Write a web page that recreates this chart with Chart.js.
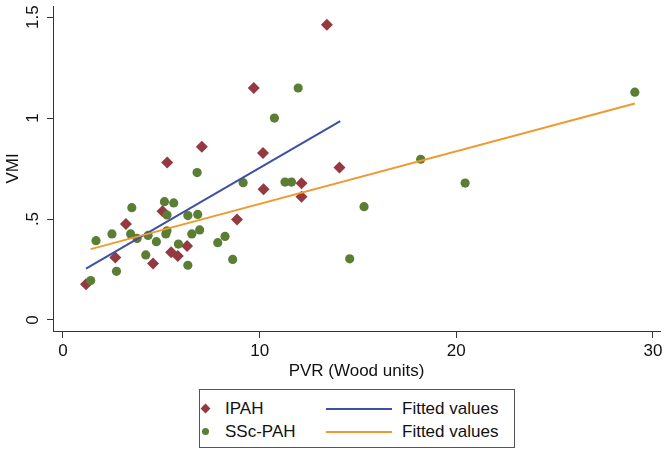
<!DOCTYPE html>
<html>
<head>
<meta charset="utf-8">
<script src="https://cdn.jsdelivr.net/npm/chart.js@4.4.1/dist/chart.umd.min.js"></script>
<style>
  html, body { margin: 0; padding: 0; background: #fff; }
  #wrap { position: relative; width: 666px; height: 450px; font-family: "Liberation Sans", Arial, Helvetica, sans-serif; }
  #legend { position: absolute; left: 199px; top: 389px; width: 316px; height: 59px; box-sizing: border-box; border: 1px solid #555; background: #fff; }
  .lg { position: absolute; font-size: 17px; line-height: 20px; height: 20px; color: #111; white-space: nowrap; }
  .dia { position: absolute; width: 7px; height: 7px; transform: rotate(45deg); }
  .dot { position: absolute; width: 7px; height: 7px; border-radius: 50%; }
  .ln { position: absolute; height: 2px; width: 66px; }
</style>
</head>
<body>
<div id="wrap">
  <canvas id="c" width="666" height="450"></canvas>
  <div id="legend"></div>
</div>
<script>
// ---- data ----
const ipahX = [1.17, 2.66, 3.20, 4.58, 5.06, 5.30, 5.50, 5.84, 6.31, 7.06, 8.85, 9.70, 10.17, 10.20, 12.13, 12.13, 13.42, 14.06];
const ipahY = [0.177, 0.309, 0.475, 0.280, 0.538, 0.780, 0.335, 0.317, 0.366, 0.858, 0.498, 1.149, 0.827, 0.647, 0.677, 0.610, 1.462, 0.755];

const sscX = [1.41, 1.68, 2.49, 2.72, 3.50, 3.44, 3.77, 4.21, 4.33, 4.75, 5.16, 5.29, 5.23, 5.29, 5.63, 5.87, 6.35, 6.35, 6.55, 6.82, 6.85, 6.95, 7.87, 8.24, 8.63, 9.16, 10.75, 11.29, 11.62, 11.96, 14.58, 15.31, 18.19, 20.45, 29.08];
const sscY = [0.195, 0.393, 0.426, 0.241, 0.556, 0.426, 0.404, 0.322, 0.419, 0.388, 0.586, 0.520, 0.426, 0.442, 0.580, 0.376, 0.517, 0.271, 0.426, 0.730, 0.523, 0.446, 0.383, 0.414, 0.300, 0.680, 1.000, 0.683, 0.683, 1.149, 0.303, 0.561, 0.796, 0.678, 1.128];

const fitIpahX = [1.17, 14.10];
const fitIpahY = [0.254, 0.985];
const fitSscX = [1.41, 29.08];
const fitSscY = [0.351, 1.072];

const xTicks = [0, 10, 20, 30];
const yTicks = [0, 0.5, 1, 1.5];
const yTickLabels = ["0", ".5", "1", "1.5"];

const seriesNames = ["IPAH", "SSc-PAH", "Fitted values", "Fitted values"];
const colors = { ipah: "#93393F", ssc: "#5A7E34", fitIpah: "#3D51A3", fitSsc: "#EF9A30" };

const zip = (xs, ys) => xs.map((x, i) => ({ x: x, y: ys[i] }));
const FONT = "'Liberation Sans', Arial, Helvetica, sans-serif";
const AX = "#333";

new Chart(document.getElementById("c"), {
  type: "scatter",
  data: {
    datasets: [
      { label: seriesNames[0], data: zip(ipahX, ipahY), pointStyle: "rectRot", pointRadius: 6, pointHoverRadius: 6,
        backgroundColor: colors.ipah, borderColor: colors.ipah, borderWidth: 0, order: 4 },
      { label: seriesNames[1], data: zip(sscX, sscY), pointStyle: "circle", pointRadius: 4.6, pointHoverRadius: 4.6,
        backgroundColor: colors.ssc, borderColor: colors.ssc, borderWidth: 0, order: 3 },
      { label: seriesNames[2], data: zip(fitIpahX, fitIpahY), showLine: true, pointRadius: 0, borderColor: colors.fitIpah,
        borderWidth: 2, backgroundColor: colors.fitIpah, order: 2 },
      { label: seriesNames[3], data: zip(fitSscX, fitSscY), showLine: true, pointRadius: 0, borderColor: colors.fitSsc,
        borderWidth: 2, backgroundColor: colors.fitSsc, order: 1 }
    ]
  },
  options: {
    responsive: false,
    animation: false,
    devicePixelRatio: 1,
    events: [],
    layout: { padding: { left: 0, top: 6, right: 5, bottom: 68 } },
    plugins: { legend: { display: false }, tooltip: { enabled: false }, title: { display: false } },
    scales: {
      x: {
        type: "linear", min: -0.508, max: 30.36,
        afterBuildTicks: s => { s.ticks = xTicks.map(v => ({ value: v })); },
        afterFit: s => { s.height = 51; s.paddingLeft = 0; s.paddingRight = 0; },
        ticks: { color: "#111", font: { family: FONT, size: 17 }, padding: 3, maxRotation: 0, minRotation: 0,
          callback: v => String(v) },
        grid: { display: true, drawOnChartArea: false, drawTicks: true, tickLength: 7, color: AX, lineWidth: 1 },
        border: { display: true, color: AX, width: 1 },
        title: { display: true, text: "PVR (Wood units)", color: "#111", font: { family: FONT, size: 17 }, padding: { top: 0, bottom: 0 } }
      },
      y: {
        type: "linear", min: -0.0545, max: 1.555,
        afterBuildTicks: s => { s.ticks = yTicks.map(v => ({ value: v })); },
        afterFit: s => { s.width = 53; s.paddingTop = 0; s.paddingBottom = 0; },
        ticks: { color: "#111", font: { family: FONT, size: 17 }, padding: 2, minRotation: 90, maxRotation: 90, crossAlign: "center",
          callback: v => { const i = yTicks.indexOf(v); return i >= 0 ? yTickLabels[i] : ""; } },
        grid: { display: true, drawOnChartArea: false, drawTicks: true, tickLength: 6, color: AX, lineWidth: 1 },
        border: { display: true, color: AX, width: 1 },
        title: { display: true, text: "VMI", color: "#111", font: { family: FONT, size: 17 }, padding: { top: 3, bottom: 0 } }
      }
    }
  }
});

// ---- legend (HTML, 2 x 2 like the reference) ----
const lg = document.getElementById("legend");
function add(html) { lg.insertAdjacentHTML("beforeend", html); }
add('<div class="dia" style="left:2px;top:15px;background:' + colors.ipah + '"></div>');
add('<div class="lg" style="left:25px;top:9px">' + seriesNames[0] + '</div>');
add('<div class="dot" style="left:2px;top:38px;background:' + colors.ssc + '"></div>');
add('<div class="lg" style="left:25px;top:32px">' + seriesNames[1] + '</div>');
add('<div class="ln" style="left:126px;top:18px;background:' + colors.fitIpah + '"></div>');
add('<div class="lg" style="left:202px;top:9px">' + seriesNames[2] + '</div>');
add('<div class="ln" style="left:126px;top:41px;background:' + colors.fitSsc + '"></div>');
add('<div class="lg" style="left:202px;top:32px">' + seriesNames[3] + '</div>');
</script>
</body>
</html>
